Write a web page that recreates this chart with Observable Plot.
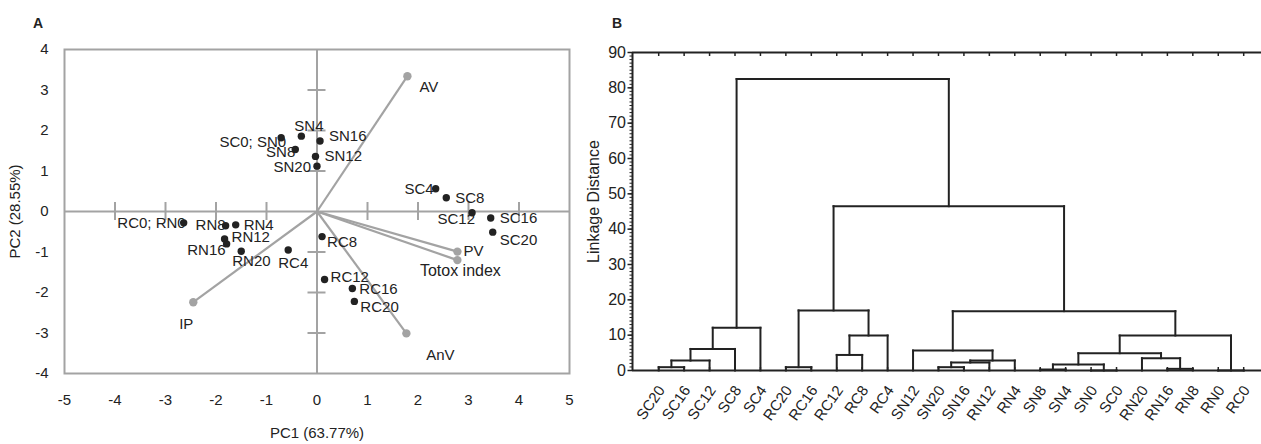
<!DOCTYPE html>
<html>
<head>
<meta charset="utf-8">
<script src="https://cdn.jsdelivr.net/npm/d3@7"></script>
<script src="https://cdn.jsdelivr.net/npm/@observablehq/plot@0.6"></script>
<style>
  html, body { margin: 0; padding: 0; background: #fff; }
  body { width: 1261px; height: 444px; position: relative; overflow: hidden; font-family: "Liberation Sans", Arial, sans-serif; }
  .panel { position: absolute; top: 0; }
  .tag { position: absolute; font-weight: bold; font-size: 14px; line-height: 14px; color: #222; }
</style>
</head>
<body>
<div class="tag" style="left:33px; top:16px;">A</div>
<div class="tag" style="left:612px; top:16px;">B</div>
<div id="left" class="panel" style="left:0px;"></div>
<div id="right" class="panel" style="left:575px;"></div>
<script>
// ---------- Panel A: PCA biplot data ----------
const scoreLabels = ["SC0; SN0","SN4","SN16","SN8","SN12","SN20","SC4","SC8","SC12","SC16","SC20",
  "RC8","RC12","RC16","RC20","RC0; RN0","RN8","RN4","RN12","RN16","RN20","RC4"];
const scorePC1 = [-0.71,-0.31,0.06,-0.43,-0.03,0.00,2.35,2.56,3.07,3.44,3.48,
  0.10,0.15,0.70,0.74,-2.64,-1.81,-1.61,-1.83,-1.79,-1.50,-0.57];
const scorePC2 = [1.82,1.86,1.74,1.53,1.36,1.12,0.56,0.34,-0.03,-0.16,-0.51,
  -0.62,-1.68,-1.90,-2.22,-0.28,-0.35,-0.33,-0.68,-0.80,-0.98,-0.95];
const loadingLabels = ["AV","PV","Totox index","AnV","IP"];
const loadingPC1 = [1.79,2.78,2.78,1.77,-2.45];
const loadingPC2 = [3.34,-0.99,-1.20,-3.01,-2.24];
const pcaTicks = [-5,-4,-3,-2,-1,0,1,2,3,4,5];
const pcaYTicks = [-4,-3,-2,-1,0,1,2,3,4];

// label placement (layout only): [textAnchor, dx, dy]
const labelPlace = {
  "SC0; SN0": ["end", 5, 4], "SN4": ["start", -7, -10], "SN16": ["start", 9, -5],
  "SN8": ["end", 0, 3], "SN12": ["start", 9, 0], "SN20": ["end", -6, 1],
  "SC4": ["end", -2, 0], "SC8": ["start", 9, 0], "SC12": ["end", 3, 6],
  "SC16": ["start", 9, 0], "SC20": ["start", 7, 8], "RC8": ["start", 5, 6],
  "RC12": ["start", 6, -2], "RC16": ["start", 7, 1], "RC20": ["start", 6, 6],
  "RC0; RN0": ["end", 2, 0], "RN8": ["end", 0, 0], "RN4": ["start", 8, 0],
  "RN12": ["start", 7, -2], "RN16": ["end", -1, 6], "RN20": ["start", -9, 10],
  "RC4": ["middle", 5, 13],
  "AV": ["start", 12, 11], "PV": ["start", 6, 0], "Totox index": ["middle", 3, 11],
  "AnV": ["middle", 34, 22], "IP": ["middle", -7, 22]
};

// ---------- Panel B: dendrogram data ----------
const leaves = ["SC20","SC16","SC12","SC8","SC4","RC20","RC16","RC12","RC8","RC4",
  "SN12","SN20","SN16","RN12","RN4","SN8","SN4","SN0","SC0","RN20","RN16","RN8","RN0","RC0"];
const mergeLeft  = ["SC20","m0","m1","m2","RC20","RC12","m5","m4","SN20","m8","m9","SN12",
  "SN8","SN0","m12","RN16","RN20","m14","RN0","m17","m11","m7","m3"];
const mergeRight = ["SC16","SC12","SC8","SC4","RC16","RC8","RC4","m6","SN16","RN12","RN4","m10",
  "SN4","SC0","m13","RN8","m15","m16","RC0","m18","m19","m20","m21"];
const mergeHeight = [0.94,2.8,6.1,12.1,0.94,4.4,9.9,17.0,0.94,2.26,2.83,5.65,
  0.28,0,1.7,0.47,3.48,4.9,0,9.9,16.8,46.5,82.5];
const distTicks = [0,10,20,30,40,50,60,70,80,90];

const FONT = '"Liberation Sans", Arial, sans-serif';
const GRAY = "#a3a3a3";
const INK = "#222";

// ----- Panel A -----
{
  const scores = scoreLabels.map((l, i) => ({label: l, x: scorePC1[i], y: scorePC2[i]}));
  const loads = loadingLabels.map((l, i) => ({label: l, x: loadingPC1[i], y: loadingPC2[i]}));
  const W = 575, H = 444, mL = 64, mR = 6, mT = 49, mB = 71;
  const pxX = (W - mL - mR) / 10, pxY = (H - mT - mB) / 8;
  const halfTick = 9;
  const inner = pcaTicks.filter(d => d !== 0 && Math.abs(d) < 5);
  const innerY = pcaYTicks.filter(d => d !== 0 && Math.abs(d) < 4);
  const labelMarks = [...scores, ...loads].map(d => {
    const [a, dx, dy] = labelPlace[d.label];
    return Plot.text([d], {x: "x", y: "y", text: "label", textAnchor: a, dx, dy,
      fontSize: d.label === "Totox index" ? 16 : 15, fill: INK});
  });
  const chart = Plot.plot({
    width: W, height: H, marginLeft: mL, marginRight: mR, marginTop: mT, marginBottom: mB,
    x: {domain: [-5, 5], axis: null}, y: {domain: [-4, 4], axis: null},
    style: {fontFamily: FONT, fontSize: "15px", color: INK, background: "transparent"},
    marks: [
      Plot.ruleX([0], {stroke: GRAY, strokeWidth: 2}),
      Plot.ruleY([0], {stroke: GRAY, strokeWidth: 2}),
      Plot.ruleX(inner, {y1: -halfTick / pxY, y2: halfTick / pxY, stroke: GRAY, strokeWidth: 2}),
      Plot.ruleY(innerY, {x1: -halfTick / pxX, x2: halfTick / pxX, stroke: GRAY, strokeWidth: 2}),
      Plot.frame({stroke: GRAY, strokeWidth: 2}),
      Plot.link(loads, {x1: 0, y1: 0, x2: "x", y2: "y", stroke: GRAY, strokeWidth: 2.2}),
      ...labelMarks,
      Plot.dot(loads, {x: "x", y: "y", r: 4.2, fill: GRAY}),
      Plot.dot(scores, {x: "x", y: "y", r: 3.7, fill: INK}),
      Plot.axisX({ticks: pcaTicks, tickSize: 0, tickPadding: 21, tickFormat: d => String(d), label: null, fontSize: 15}),
      Plot.axisY({ticks: pcaYTicks, tickSize: 0, tickPadding: 16, tickFormat: d => String(d), label: null, fontSize: 15}),
      Plot.text(["PC1 (63.77%)"], {frameAnchor: "bottom", textAnchor: "middle", dy: 64, fontSize: 15, fill: INK}),
      Plot.text(["PC2 (28.55%)"], {frameAnchor: "left", textAnchor: "middle", dx: -49, rotate: -90, fontSize: 15, fill: INK})
    ]
  });
  document.getElementById("left").appendChild(chart);
}

// ----- Panel B -----
{
  const pos = new Map();
  leaves.forEach((n, i) => pos.set(n, {x: i, h: 0}));
  const segs = [];
  mergeLeft.forEach((a, k) => {
    const A = pos.get(a), B = pos.get(mergeRight[k]), h = mergeHeight[k];
    segs.push({x1: A.x, y1: A.h, x2: A.x, y2: h});
    segs.push({x1: A.x, y1: h, x2: B.x, y2: h});
    segs.push({x1: B.x, y1: B.h, x2: B.x, y2: h});
    pos.set("m" + k, {x: (A.x + B.x) / 2, h});
  });
  const W = 686, H = 444, mL = 57, mR = 0, mT = 52, mB = 74;
  const xDomain = [-1.03, 23.7];
  const pxY = (H - mT - mB) / 90;
  const leafIdx = leaves.map((d, i) => i);
  const chart = Plot.plot({
    width: W, height: H, marginLeft: mL, marginRight: mR, marginTop: mT, marginBottom: mB,
    x: {domain: xDomain, axis: null}, y: {domain: [0, 90]},
    style: {fontFamily: FONT, fontSize: "16px", color: INK, background: "transparent"},
    marks: [
      Plot.ruleX(leafIdx, {y1: 90, y2: 90 - 4 / pxY, stroke: INK, strokeWidth: 1.5}),
      Plot.ruleX(leafIdx, {y1: 0, y2: 3 / pxY, stroke: INK, strokeWidth: 1.5}),
      Plot.link(segs, {x1: "x1", y1: "y1", x2: "x2", y2: "y2", stroke: INK, strokeWidth: 2, strokeLinecap: "square"}),
      Plot.ruleY([0, 90], {stroke: INK, strokeWidth: 2}),
      Plot.ruleX([xDomain[0]], {stroke: INK, strokeWidth: 2}),
      Plot.axisY({ticks: d3.range(0, 91, 1), tickSize: 2.5, tickFormat: () => "", label: null, strokeWidth: 1}),
      Plot.axisY({ticks: distTicks, tickSize: 4.5, tickPadding: 2, label: null, fontSize: 16, strokeWidth: 1.5}),
      Plot.text(leaves.map((l, i) => ({l, i})), {x: "i", y: 0, text: "l", rotate: -55, textAnchor: "end",
        dx: 3, dy: 17, fontSize: 15, fill: INK}),
      Plot.text(["Linkage Distance"], {frameAnchor: "left", textAnchor: "middle", dx: -39, dy: -10, rotate: -90, fontSize: 16, fill: INK})
    ]
  });
  document.getElementById("right").appendChild(chart);
}
</script>
</body>
</html>
